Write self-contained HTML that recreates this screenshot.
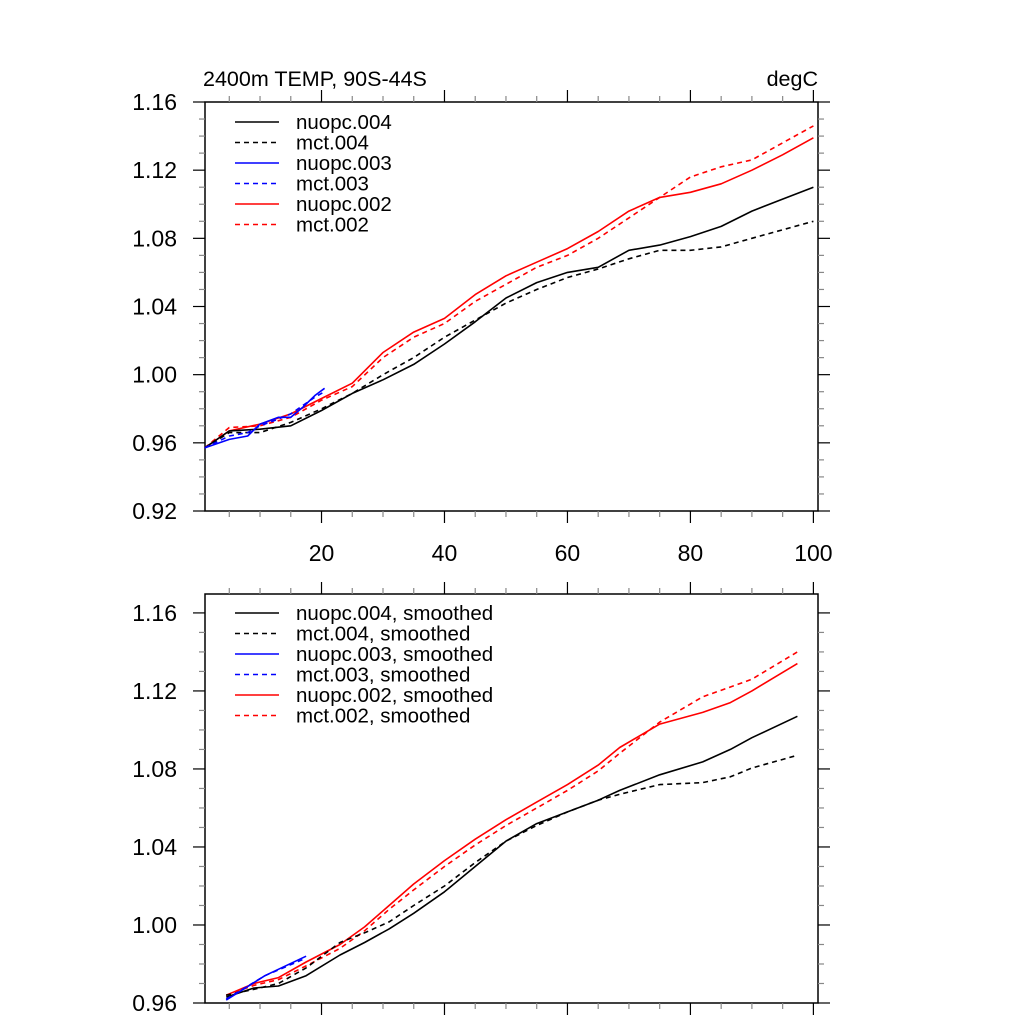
<!DOCTYPE html>
<html><head><meta charset="utf-8"><style>
body{margin:0;background:#fff}
svg text{font-family:"Liberation Sans",sans-serif;fill:#000}
</style></head><body>
<svg id="chart" width="1024" height="1024" xmlns="http://www.w3.org/2000/svg">
<text x="203" y="86" font-size="21.5">2400m TEMP, 90S-44S</text>
<text x="818" y="86" font-size="21.5" text-anchor="end">degC</text>
<g id="p1"></g>
<g id="p2"></g>
</svg>
<script>
// ---- top panel data ----
const xsTop = [1,5,10,15,20,25,30,35,40,45,50,55,60,65,70,75,80,85,90,95,100];
const nuopc004 = [0.957,0.967,0.968,0.970,0.979,0.989,0.997,1.006,1.018,1.031,1.045,1.054,1.060,1.063,1.073,1.076,1.081,1.087,1.096,1.103,1.110];
const mct004 = [0.957,0.966,0.966,0.972,0.980,0.989,1.000,1.010,1.022,1.032,1.042,1.050,1.057,1.062,1.068,1.073,1.073,1.075,1.080,1.085,1.090];
const nuopc002 = [0.957,0.967,0.971,0.977,0.986,0.995,1.013,1.025,1.033,1.047,1.058,1.066,1.074,1.084,1.096,1.104,1.107,1.112,1.120,1.129,1.139];
const mct002 = [0.957,0.969,0.970,0.975,0.985,0.993,1.010,1.022,1.030,1.043,1.053,1.063,1.070,1.080,1.092,1.104,1.116,1.122,1.126,1.136,1.146];
const xs003 = [1,5,8,10,13,15,17,19,20.5];
const nuopc003 = [0.957,0.962,0.964,0.971,0.975,0.975,0.981,0.988,0.992];
const mct003 = [0.957,0.964,0.966,0.970,0.974,0.977,0.982,0.987,0.990];
// ---- bottom panel data (smoothed) ----
const xsSm = [4.5,9,13,17.5,23,27,31,35,40,45,50,55,60,65,68.5,75,82,86.5,90,97.4];
const nuopc004s = [0.963,0.9677,0.9687,0.974,0.9846,0.991,0.998,1.006,1.017,1.030,1.043,1.052,1.058,1.064,1.069,1.077,1.0836,1.090,1.096,1.107];
const mct004s = [0.964,0.967,0.970,0.978,0.991,0.996,1.0016,1.010,1.020,1.032,1.043,1.051,1.058,1.064,1.067,1.072,1.073,1.076,1.0805,1.087];
const nuopc002s = [0.964,0.970,0.973,0.981,0.990,0.999,1.010,1.021,1.033,1.044,1.054,1.063,1.072,1.082,1.091,1.103,1.109,1.114,1.120,1.134];
const mct002s = [0.964,0.969,0.972,0.979,0.988,0.997,1.008,1.018,1.030,1.041,1.051,1.060,1.069,1.079,1.088,1.104,1.117,1.122,1.126,1.140];
const xs003s = [4.5,10.8,17.5];
const nuopc003s = [0.9615,0.974,0.984];
const mct003s = [0.962,0.974,0.983];
const yTicksTop = [0.92,0.96,1.00,1.04,1.08,1.12,1.16];
const yTicksBot = [0.96,1.00,1.04,1.08,1.12,1.16];
const xTicks = [20,40,60,80,100];

const NS = "http://www.w3.org/2000/svg";
function mk(parent, tag, attrs){const e=document.createElementNS(NS,tag);for(const k in attrs)e.setAttribute(k,attrs[k]);parent.appendChild(e);return e;}

function panel(g, top, bottom, ymin, ymax, yTicks, showXLabels, series, legend, legY){
  const L=205,R=818, xmin=1.05, xmax=100.75;
  const sx=v=>L+(v-xmin)/(xmax-xmin)*(R-L);
  const sy=v=>bottom-(v-ymin)/(ymax-ymin)*(bottom-top);
  const fr=mk(g,'rect',{x:L,y:top,width:R-L,height:bottom-top,fill:'none',stroke:'#000','stroke-width':1.5});
  
  
  for(let v=5;v<=100;v+=5){
    const maj=v%20===0, len=maj?12:6, x=sx(v);
    mk(g,'line',{x1:x,x2:x,y1:top,y2:top-len,stroke:maj?'#000':'#888','stroke-width':1.2});
    mk(g,'line',{x1:x,x2:x,y1:bottom,y2:bottom+len,stroke:maj?'#000':'#888','stroke-width':1.2});
  }
  if(showXLabels){
    xTicks.forEach(v=>{
      const t=mk(g,'text',{x:sx(v),y:bottom+50,'font-size':23,'text-anchor':'middle'});
      t.textContent=v;
      
      
    });
  }
  for(let i=0;;i++){
    const v=+(ymin+i*0.01).toFixed(3); if(v>ymax+1e-9)break;
    const maj=Math.round(v*100)%4===0, len=maj?12:6, y=sy(v);
    mk(g,'line',{x1:L,x2:L-len,y1:y,y2:y,stroke:maj?'#000':'#888','stroke-width':1.2});
    mk(g,'line',{x1:R,x2:R+len,y1:y,y2:y,stroke:maj?'#000':'#888','stroke-width':1.2});
  }
  yTicks.forEach(v=>{
    const t=mk(g,'text',{x:177,y:sy(v)+8,'font-size':23,'text-anchor':'end'});
    t.textContent=v.toFixed(2);
    
    
  });
  series.forEach(s=>{
    const d=s.xs.map((x,i)=>(i?'L':'M')+sx(x).toFixed(1)+' '+sy(s.ys[i]).toFixed(1)).join(' ');
    const p=mk(g,'path',{d:d,fill:'none',stroke:s.c,'stroke-width':1.6,'stroke-dasharray':s.dash?'5 4':'none','stroke-linejoin':'round'});
    
    
  });
  legend.forEach((s,i)=>{
    const y=legY+i*20.5;
    const ln=mk(g,'line',{x1:235,x2:279,y1:y,y2:y,stroke:s.c,'stroke-width':1.6,'stroke-dasharray':s.dash?'5 4':'none'});
    
    
    const t=mk(g,'text',{x:296,y:y+7,'font-size':20.5});
    t.textContent=s.label;
    
    
  });
}
const topSeries=[
 {n:'mct-002',xs:xsTop,ys:mct002,c:'#f00',dash:1},
 {n:'nuopc-002',xs:xsTop,ys:nuopc002,c:'#f00'},
 {n:'mct-004',xs:xsTop,ys:mct004,c:'#000',dash:1},
 {n:'nuopc-004',xs:xsTop,ys:nuopc004,c:'#000'},
 {n:'mct-003',xs:xs003,ys:mct003,c:'#00f',dash:1},
 {n:'nuopc-003',xs:xs003,ys:nuopc003,c:'#00f'}];
const botSeries=[
 {n:'mct-002-smoothed',xs:xsSm,ys:mct002s,c:'#f00',dash:1},
 {n:'nuopc-002-smoothed',xs:xsSm,ys:nuopc002s,c:'#f00'},
 {n:'mct-004-smoothed',xs:xsSm,ys:mct004s,c:'#000',dash:1},
 {n:'nuopc-004-smoothed',xs:xsSm,ys:nuopc004s,c:'#000'},
 {n:'mct-003-smoothed',xs:xs003s,ys:mct003s,c:'#00f',dash:1},
 {n:'nuopc-003-smoothed',xs:xs003s,ys:nuopc003s,c:'#00f'}];
const leg=[['nuopc.004','#000',0],['mct.004','#000',1],['nuopc.003','#00f',0],['mct.003','#00f',1],['nuopc.002','#f00',0],['mct.002','#f00',1]];
panel(document.getElementById('p1'),102,511,0.92,1.16,yTicksTop,true,topSeries,leg.map(l=>({label:l[0],c:l[1],dash:l[2]})),122);
panel(document.getElementById('p2'),594,1003,0.96,1.1697,yTicksBot,false,botSeries,leg.map(l=>({label:l[0]+', smoothed',c:l[1],dash:l[2]})),613);
</script>
</body></html>
